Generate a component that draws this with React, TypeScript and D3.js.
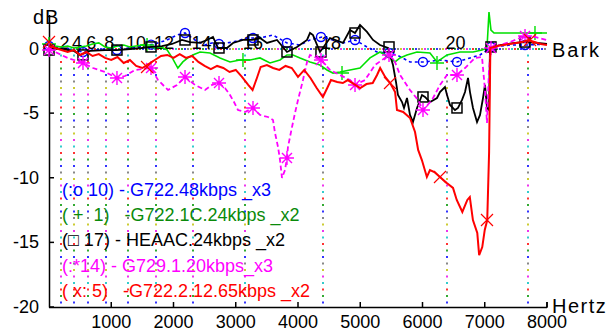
import React from 'react'
import * as d3 from 'd3'

const W = 607
const H = 331

const xTicks = [1000, 2000, 3000, 4000, 5000, 6000, 7000, 8000]
const yTicks = [0, -5, -10, -15, -20]
const barkHz = [200, 400, 630, 920, 1270, 1720, 2320, 3150, 4400, 6400, 7700]
const barkNum = ['2', '4', '6', '8', '10', '12', '14', '16', '18', '20', '']
const dotColors = ['#33cccc', '#ff3333', '#33aa33', '#3333ff', '#888888', '#cccc33', '#ee33ee']

const legendText = [
	'(:o 10) - G722.48kbps _x3',
	'( +  1)   -G722.1C.24kbps _x2',
	'(\u25a1 17) - HEAAC.24kbps _x2',
	'(:*14) - G729.1.20kbps_x3',
	'( x: 5)   -G722.2.12.65kbps _x2',
]
const legendColor = ['#0000ff', '#0a8a0a', '#000000', '#ff00ff', '#ff0000']

// [Hz, dB]
const blueLine = [
	[0, 0.19], [200, 0.04], [400, -0.12], [546, -0.27], [707, -0.12], [900, -0.04], [1092, -0.12],
	[1301, 0.04], [1494, 0.19], [1703, 0.35], [1896, 0.66], [2056, 1.04], [2185, 1.2], [2345, 0.66],
	[2506, 0.27], [2618, 0.43], [2747, 0.35], [2956, 0.5], [3181, 0.81], [3390, 0.81], [3598, 1.04],
	[3823, 0.43], [4032, 0.27], [4193, 0.66], [4386, 0.89], [4562, 0.66], [4723, 0.43], [4916, 0.66],
	[5108, 0.12], [5269, -0.27], [5430, -0.35], [5590, -0.5], [5799, -1.04], [6040, -1.04], [6281, -0.89],
	[6554, -1.04], [6763, -0.73], [6924, -0.5], [7036, -0.12], [7116, 0.12], [7406, 0.27], [7679, 0.27],
	[8000, 0.35],
]

const greenLine = [
	[0, 0.35], [100, 0.19], [200, 0.12], [300, 0.19], [400, 0.04], [500, 0.12], [600, 0.19], [700, 0.35],
	[800, 0.43], [900, 0.12], [1000, 0.04], [1100, 0.19], [1200, 0.27], [1300, 0.12], [1400, 0.19],
	[1500, 0.27], [1600, 0.12], [1700, 0.04], [1800, 0.12], [1900, -0.12], [1980, -0.73], [2070, -1.51],
	[2150, -1.04], [2230, -0.73], [2310, -0.5], [2426, -0.27], [2586, -0.35], [2747, -0.73], [2908, -1.04],
	[3068, -0.89], [3229, -0.89], [3390, -0.73], [3550, -1.12], [3711, -0.89], [3823, -0.5], [3920, -0.5],
	[4032, -0.73], [4193, -1.04], [4353, -1.28], [4466, -1.66], [4562, -1.9], [4675, -1.82], [4835, -1.66],
	[4996, -1.51], [5044, -1.28], [5157, -0.73], [5317, -0.27], [5478, -0.73], [5558, -1.04], [5639, -0.73],
	[5751, -0.5], [5912, -0.27], [6120, -0.35], [6233, -1.04], [6394, -0.5], [6602, -0.27], [6811, -0.27],
	[6956, -0.12], [7036, 0.04], [7068, 2.82], [7100, 1.43], [7149, 1.2], [7406, 1.2], [7727, 1.2], [8000, 1.2],
]

const blackLine = [
	[0, 0.04], [200, -0.04], [400, -0.19], [498, -0.5], [659, -0.19], [900, -0.12], [1092, -0.12],
	[1301, -0.04], [1494, 0.04], [1639, 0.12], [1815, 0.19], [1976, 0.35], [2136, 0.66], [2265, 0.5],
	[2426, 0.43], [2538, 0.66], [2634, 0.89], [2715, 0.04], [2859, 0.04], [2956, 0.43], [3116, 0.66],
	[3261, 0.66], [3390, 0.81], [3502, 0.43], [3663, 0.66], [3823, -0.27], [3984, 0.12], [4145, 0.66],
	[4193, 1.2], [4241, 1.04], [4353, -0.27], [4514, 0.81], [4723, 0.43], [4835, 1.43], [4916, 1.2],
	[4996, 1.82], [5108, 1.28], [5205, 0.66], [5317, 0.27], [5446, 0.04], [5526, -1.28], [5574, -2.59],
	[5606, -3.6], [5671, -4.14], [5703, -4.6], [5751, -3.83], [5799, -5.14], [5847, -5.69], [5912, -4.6],
	[5992, -3.6], [6040, -3.75], [6120, -4.14], [6233, -3.83], [6281, -3.37], [6361, -2.98], [6394, -3.6],
	[6442, -4.37], [6522, -4.76], [6570, -4.6], [6635, -3.98], [6683, -3.37], [6731, -2.28], [6763, -3.37],
	[6811, -4.6], [6876, -5.69], [6924, -5.14], [6972, -3.83], [7004, -2.82], [7036, -4.6], [7068, -4.76],
	[7084, 0.04], [7245, 0.27], [7486, 0.43], [7647, 0.5], [7839, 0.43], [8000, 0.35],
]

const magentaLine = [
	[0, 0.04], [100, -0.27], [200, -0.5], [300, -0.73], [400, -0.89], [546, -1.12], [707, -1.51],
	[900, -1.82], [1092, -2.28], [1221, -2.13], [1382, -1.66], [1639, -1.51], [1751, -2.44], [1912, -3.21],
	[2056, -2.82], [2185, -2.2], [2345, -2.82], [2506, -3.21], [2618, -2.82], [2731, -2.67], [2827, -3.06],
	[2908, -3.6], [2972, -4.14], [3036, -4.76], [3149, -4.91], [3277, -4.6], [3390, -5.14], [3518, -5.3],
	[3598, -5.53], [3631, -6.54], [3679, -7.62], [3711, -8.63], [3743, -10.02], [3791, -9.4], [3823, -8.47],
	[3839, -7.62], [3904, -6.07], [3952, -4.99], [4000, -3.98], [4080, -2.44], [4145, -1.04], [4193, -0.5],
	[4369, -0.89], [4514, -1.66], [4675, -2.05], [4835, -2.44], [4916, -2.82], [5076, -2.44], [5237, -1.28],
	[5462, -0.5], [5558, -1.04], [5639, -2.05], [5799, -3.21], [5928, -3.98], [6008, -4.76], [6153, -3.98],
	[6281, -2.82], [6394, -2.05], [6554, -2.05], [6683, -1.51], [6843, -0.73], [6956, -0.66], [7004, -3.21],
	[7036, -5.76], [7068, -1.66], [7100, 0.04], [7245, 0.27], [7406, 0.5], [7647, 0.97], [7807, 0.89],
	[8000, 0.66],
]

const redLine = [
	[0, 0.19], [100, 0.04], [200, -0.12], [300, -0.27], [400, -0.12], [500, -0.5], [600, -0.27], [700, -0.58],
	[800, -0.43], [900, -0.73], [1000, -0.89], [1100, -0.66], [1200, -1.12], [1300, -0.89], [1400, -1.35],
	[1500, -1.51], [1600, -1.2], [1700, -0.89], [1800, -0.58], [1900, -0.5], [2000, -0.73], [2100, -0.43],
	[2200, -0.73], [2300, -0.58], [2400, -1.04], [2500, -1.35], [2600, -1.59], [2700, -1.35], [2800, -1.51],
	[2900, -1.82], [3000, -1.66], [3100, -2.2], [3200, -2.82], [3270, -3.21], [3340, -2.28], [3400, -1.43],
	[3500, -1.28], [3600, -1.51], [3700, -1.66], [3800, -1.35], [3900, -1.51], [4000, -2.2], [4100, -1.66],
	[4200, -2.28], [4300, -3.06], [4400, -3.75], [4470, -3.06], [4530, -2.44], [4630, -2.59], [4720, -2.67],
	[4800, -2.44], [4900, -2.75], [5000, -3.06], [5100, -2.75], [5200, -2.67], [5270, -2.05], [5320, -1.51],
	[5400, -2.2], [5480, -2.67], [5560, -3.37], [5590, -4.76], [5690, -4.91], [5800, -5.38], [5880, -6.46],
	[5930, -7.85], [5990, -8.63], [6070, -9.94], [6120, -9.4], [6190, -9.56], [6280, -9.94], [6390, -10.4],
	[6490, -10.79], [6550, -11.72], [6640, -12.65], [6720, -11.72], [6760, -11.49], [6810, -13.27],
	[6880, -14.27], [6910, -15.98], [6960, -15.36], [7000, -14.04], [7040, -13.27], [7070, -8.0], [7090, 0.04],
	[7200, 0.19], [7300, 0.27], [7400, 0.35], [7500, 0.43], [7600, 0.5], [7700, 0.66], [7800, 0.5],
	[7900, 0.35], [8000, 0.27],
]

// marker positions
const markHz = [0, 546, 1092, 1639, 2185, 2731, 3277, 3823, 4369, 4916, 5462, 6008, 6554, 7100, 7647]
const blueMarkDb = [0.19, -0.27, -0.12, 0.3, 1.2, 0.35, 0.81, 0.43, 0.89, 0.66, -0.35, -1.04, -1.04, 0.12, 0.27]
const blackMarkDb = [-0.12, -0.5, -0.12, 0.12, 0.66, 0.04, 0.66, -0.27, -0.27, 1.2, 0.12, -3.75, -4.6, 0.12, 0.5]
const magentaMarkDb = [-0.12, -1.12, -2.28, -1.51, -2.2, -2.67, -4.6, -8.47, -0.89, -2.82, -0.5, -4.76, -2.05, 0.04, 0.97]
const greenMarkHz = [0, 1575, 3116, 4707, 6233, 7807]
const greenMarkDb = [0.35, 0.27, -0.89, -1.9, -1.12, 1.2]
const redMarkHz = [0, 1575, 5478, 6281, 7036, 7727]
const redMarkDb = [0.5, -1.43, -2.67, -9.94, -13.27, 0.66]

const font = 'Liberation Sans, Arial, Helvetica, sans-serif'

const App = () => {
	const x = d3.scaleLinear().domain([0, 8000]).range([49, 547])
	const y = d3.scaleLinear().domain([-20, 0]).range([307, 48.5])
	const line = d3
		.line<number[]>()
		.x((d) => x(d[0]))
		.y((d) => y(d[1]))

	const dotRows = d3.range(0, 39)
	const hDots = d3.range(49, 547, 3)

	const circ = (hz, db, i) => (
		<circle key={i} cx={x(hz)} cy={y(db)} r={4.5} fill='none' stroke='#0000ff' strokeWidth={1.4} />
	)
	const sq = (hz, db, i) => (
		<rect key={i} x={x(hz) - 5} y={y(db) - 5} width={10} height={10} fill='none' stroke='#000' strokeWidth={1.5} />
	)
	const star = (hz, db, i) => {
		const cx = x(hz), cy = y(db), r = 7, d = 5
		return (
			<path key={i} stroke='#ff00ff' strokeWidth={1.4} fill='none'
				d={`M${cx - r},${cy}H${cx + r}M${cx},${cy - r}V${cy + r}M${cx - d},${cy - d}L${cx + d},${cy + d}M${cx - d},${cy + d}L${cx + d},${cy - d}`} />
		)
	}
	const plus = (hz, db, i) => {
		const cx = x(hz), cy = y(db), r = 7
		return <path key={i} stroke='#00e000' strokeWidth={1.4} d={`M${cx - r},${cy}H${cx + r}M${cx},${cy - r}V${cy + r}`} />
	}
	const cross = (hz, db, i) => {
		const cx = x(hz), cy = y(db), d = 6
		return <path key={i} stroke='#ff0000' strokeWidth={1.2} d={`M${cx - d},${cy - d}L${cx + d},${cy + d}M${cx - d},${cy + d}L${cx + d},${cy - d}`} />
	}

	return (
		<svg width={W} height={H} style={{ position: 'absolute', left: 0, top: 0, background: '#fff' }} fontFamily={font}>
			{/* bark band dotted verticals */}
			{barkHz.map((b) =>
				dotRows.map((i) => (
					<rect key={b + '-' + i} x={Math.round(x(b)) - 1} y={55.5 + 6.5 * i - 1} width={2} height={2} fill={dotColors[i % 7]} />
				))
			)}
			{/* 0 dB dotted line */}
			{hDots.map((px, i) => (
				<rect key={'h' + i} x={px} y={48} width={2} height={2} fill={dotColors[i % 7]} />
			))}

			{/* axes */}
			<line x1={49.5} x2={49.5} y1={15} y2={307.5} stroke='#000' strokeWidth={1.5} />
			<line x1={49} x2={547} y1={307.5} y2={307.5} stroke='#000' strokeWidth={1.5} />
			<line x1={547} x2={547} y1={302} y2={307.5} stroke='#000' strokeWidth={1.5} />
			{yTicks.map((t) => (
				<g key={'y' + t}>
					<line x1={49.5} x2={54} y1={y(t)} y2={y(t)} stroke='#000' strokeWidth={1.5} />
					<text x={39} y={y(t) + 6} fontSize={18} textAnchor='end'>{t}</text>
				</g>
			))}
			{xTicks.map((t) => (
				<g key={'x' + t}>
					<line x1={x(t)} x2={x(t)} y1={302} y2={307.5} stroke='#000' strokeWidth={1.5} />
					<text x={x(t)} y={328} fontSize={18} textAnchor='middle'>{t}</text>
				</g>
			))}
			{barkHz.map((b, i) => (
				<text key={'b' + i} x={x(b) - 2} y={49} fontSize={18}>{barkNum[i]}</text>
			))}

			{/* series */}
			<path d={line(blueLine)} fill='none' stroke='#0000ff' strokeWidth={1.6} strokeDasharray='3 3' />
			{markHz.map((h, i) => circ(h, blueMarkDb[i], 'c' + i))}
			<path d={line(greenLine)} fill='none' stroke='#00e000' strokeWidth={1.6} />
			{greenMarkHz.map((h, i) => plus(h, greenMarkDb[i], 'p' + i))}
			<path d={line(blackLine)} fill='none' stroke='#000' strokeWidth={1.8} />
			{markHz.map((h, i) => sq(h, blackMarkDb[i], 's' + i))}
			<path d={line(magentaLine)} fill='none' stroke='#ff00ff' strokeWidth={1.8} strokeDasharray='5 3' />
			{markHz.map((h, i) => star(h, magentaMarkDb[i], 'st' + i))}
			<path d={line(redLine)} fill='none' stroke='#ff0000' strokeWidth={2} />
			{redMarkHz.map((h, i) => cross(h, redMarkDb[i], 'x' + i))}

			{/* legend */}
			{legendText.map((t, i) => (
				<text key={'l' + i} x={62} y={196 + 25.2 * i} fontSize={18} fill={legendColor[i]} style={{ whiteSpace: 'pre' }}>{t}</text>
			))}

			<text x={33} y={24} fontSize={20} letterSpacing={1}>dB</text>
			<text x={552} y={57} fontSize={20} letterSpacing={2}>Bark</text>
			<text x={552} y={313} fontSize={20} letterSpacing={1.5}>Hertz</text>
		</svg>
	)
}

export default App
